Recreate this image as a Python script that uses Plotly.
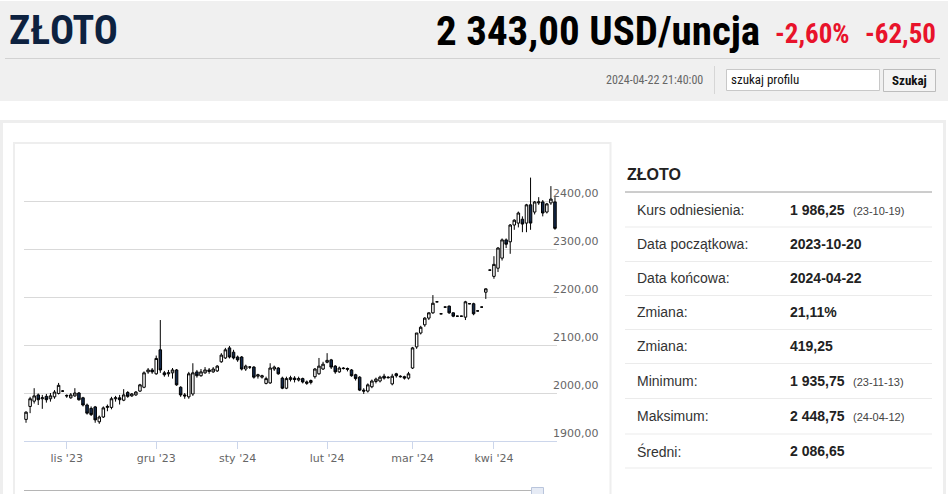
import pandas as pd
import plotly.graph_objects as go

# ---------------- data ----------------
holidays = ["2023-12-25", "2024-01-01", "2024-03-29"]
dates = [d.strftime("%Y-%m-%d") for d in pd.bdate_range("2023-10-18", "2024-04-22")
         if d.strftime("%Y-%m-%d") not in holidays]

open_ = [1945, 1972, 1983, 1996, 1988, 1993, 1988, 1992, 1999, 2004,
         1995, 1990, 1994, 2000, 1990, 1975, 1968, 1971, 1940, 1950,
         1970, 1970, 1988, 1990, 1985, 2001, 1994, 1996, 2004, 2012,
         2044, 2048, 2040, 2090, 2042, 2040, 2042, 2048, 2012, 1996,
         1992, 1998, 2044, 2036, 2042, 2048, 2044, 2046, 2065, 2073,
         2094, 2085, 2075, 2075, 2050, 2054, 2054, 2035, 2033, 2020,
         2021, 2050, 2052, 2031, 2010, 2028, 2031, 2027, 2030, 2020,
         2022, 2034, 2040, 2050, 2064, 2069, 2056, 2044, 2052, 2049,
         2048, 2038, 2033, 2006, 2004, 2013, 2024, 2025, 2035, 2033,
         2019, 2040, 2035, 2034, 2031, 2052, 2096, 2125, 2142, 2156,
         2167, 2190, 2165, 2179, 2181, 2167, 2160, 2160, 2158, 2186,
         2186, 2171, 2179, 2210, 2256, 2243, 2260, 2281, 2319, 2315,
         2350, 2354, 2362, 2354, 2392, 2377, 2396, 2398, 2377, 2396,
         2398]
high = [1962, 1992, 2010, 1999, 1996, 1998, 2000, 2006, 2021, 2006,
        1997, 2000, 2010, 2002, 1992, 1978, 1972, 1973, 1953, 1972,
        1976, 1992, 1994, 1996, 2008, 2004, 2000, 2004, 2019, 2045,
        2052, 2052, 2078, 2152, 2046, 2048, 2052, 2050, 2014, 2000,
        2044, 2062, 2048, 2050, 2054, 2052, 2054, 2058, 2083, 2094,
        2098, 2090, 2078, 2077, 2059, 2056, 2056, 2040, 2038, 2034,
        2062, 2057, 2054, 2034, 2034, 2036, 2035, 2034, 2032, 2026,
        2028, 2052, 2073, 2065, 2083, 2071, 2058, 2055, 2054, 2053,
        2050, 2040, 2035, 2010, 2020, 2028, 2032, 2036, 2040, 2035,
        2040, 2042, 2037, 2036, 2044, 2096, 2125, 2140, 2158, 2168,
        2204, 2191, 2166, 2180, 2182, 2168, 2161, 2161, 2192, 2187,
        2188, 2172, 2180, 2218, 2257, 2285, 2304, 2322, 2322, 2352,
        2362, 2378, 2368, 2394, 2448.75, 2400, 2408, 2402, 2396, 2431,
        2408]
low = [1938, 1958, 1978, 1975, 1967, 1980, 1982, 1988, 1997, 2002,
       1990, 1988, 1992, 1984, 1972, 1955, 1952, 1938, 1935.75, 1948,
       1962, 1966, 1982, 1976, 1983, 1990, 1992, 1994, 2002, 2010,
       2040, 2040, 2038, 2042, 2034, 2034, 2030, 2015, 1992, 1988,
       1988, 1994, 2032, 2034, 2040, 2040, 2042, 2044, 2063, 2071,
       2072, 2070, 2065, 2047, 2046, 2050, 2030, 2030, 2030, 2018,
       2019, 2046, 2038, 2008, 2008, 2024, 2022, 2024, 2020, 2017,
       2018, 2030, 2038, 2048, 2062, 2050, 2040, 2042, 2049, 2045,
       2034, 2026, 2004, 1998, 2001, 2010, 2020, 2022, 2028, 2030,
       2016, 2032, 2032, 2028, 2028, 2050, 2092, 2122, 2138, 2152,
       2165, 2189, 2164, 2178, 2165, 2158, 2159, 2159, 2152, 2185,
       2162, 2170, 2178, 2196, 2255, 2238, 2252, 2276, 2302, 2290,
       2340, 2345, 2335, 2335, 2340, 2372, 2392, 2368, 2374, 2392,
       2340]
close = [1960, 1988, 1994, 1986, 1990, 1986, 1994, 2002, 2016, 2004,
         1994, 1996, 2000, 1986, 1975, 1958, 1955, 1944, 1950, 1969,
         1972, 1988, 1990, 1986, 1996, 1993, 1998, 2002, 2017, 2042,
         2048, 2044, 2072, 2048, 2038, 2042, 2048, 2017, 1996, 1994,
         2040, 2042, 2036, 2044, 2048, 2045, 2050, 2056, 2079, 2090,
         2075, 2073, 2069, 2050, 2056, 2054, 2033, 2038, 2036, 2030,
         2052, 2054, 2040, 2010, 2030, 2032, 2028, 2030, 2023, 2023,
         2026, 2050, 2056, 2060, 2068, 2054, 2044, 2052, 2051, 2051,
         2036, 2030, 2006, 2004, 2017, 2025, 2029, 2033, 2031, 2032,
         2035, 2036, 2034, 2031, 2040, 2094, 2125, 2137, 2156, 2167,
         2187, 2190, 2165, 2179, 2167, 2160, 2160, 2160, 2190, 2186,
         2165, 2171, 2179, 2217, 2256, 2268, 2302, 2319, 2310, 2350,
         2360, 2375, 2352, 2392, 2354, 2398, 2398, 2375, 2394, 2404,
         2343]

month_ticks = ["2023-11-01", "2023-12-01", "2024-01-02", "2024-02-01", "2024-03-01", "2024-04-01"]
month_labels = ["lis '23", "gru '23", "sty '24", "lut '24", "mar '24", "kwi '24"]
y_ticks = [1900, 2000, 2100, 2200, 2300, 2400, 2500]
y_labels = ["1900,00", "2000,00", "2100,00", "2200,00", "2300,00", "2400,00", ""]

title = "ZŁOTO"
price_text = "2 343,00 USD/uncja"
change_pct = "-2,60%"
change_abs = "-62,50"
timestamp = "2024-04-22 21:40:00"

row_labels = ["Kurs odniesienia:", "Data początkowa:", "Data końcowa:", "Zmiana:",
              "Zmiana:", "Minimum:", "Maksimum:", "Średni:"]
row_values = ["1 986,25", "2023-10-20", "2024-04-22", "21,11%",
              "419,25", "1 935,75", "2 448,75", "2 086,65"]
row_notes = ["(23-10-19)", "", "", "", "", "(23-11-13)", "(24-04-12)", ""]

# ---------------- helpers ----------------
W, H = 948, 494
def X(px): return px / W
def Y(py): return 1 - py / H

NARROW = "Liberation Sans Narrow, Arial Narrow, Roboto Condensed, Liberation Sans, sans-serif"
ARIAL = "Liberation Sans, Arial, sans-serif"
DEJAVU = "DejaVu Sans, Verdana, sans-serif"

fig = go.Figure()
fig.add_trace(go.Candlestick(
    x=dates, open=open_, high=high, low=low, close=close,
    increasing=dict(fillcolor="#ffffff", line=dict(color="#000000", width=1)),
    decreasing=dict(fillcolor="#13294b", line=dict(color="#000000", width=1)),
    whiskerwidth=0, showlegend=False, hoverinfo="skip",
))

shapes = []
annos = []
def rect(x0, y0, x1, y1, fill=None, line=None, lw=1):
    shapes.append(dict(type="rect", xref="paper", yref="paper", x0=X(x0), x1=X(x1), y0=Y(y1), y1=Y(y0),
                       fillcolor=fill if fill else "rgba(0,0,0,0)",
                       line=dict(color=line if line else "rgba(0,0,0,0)", width=lw if line else 0),
                       layer="below"))
def hline(x0, x1, y, color, lw=1):
    shapes.append(dict(type="line", xref="paper", yref="paper", x0=X(x0), x1=X(x1), y0=Y(y), y1=Y(y),
                       line=dict(color=color, width=lw), layer="below"))
def vline(x, y0, y1, color, lw=1):
    shapes.append(dict(type="line", xref="paper", yref="paper", x0=X(x), x1=X(x), y0=Y(y0), y1=Y(y1),
                       line=dict(color=color, width=lw), layer="below"))
def text(x, y, s, size, color="#000", family=ARIAL, xanchor="left", bold=False):
    annos.append(dict(xref="paper", yref="paper", x=X(x), y=Y(y), text=("<b>%s</b>" % s) if bold else s,
                      showarrow=False, xanchor=xanchor, yanchor="middle",
                      font=dict(size=size, color=color, family=family), align="left",
                      borderpad=0))

# header band
rect(0, 1, 948, 101, fill="#f0f0f0")
hline(5, 940, 58.5, "#d2d2d2")
text(8, 31, title, 40, "#0d2240", NARROW, bold=True)
text(761, 31, price_text, 41, "#000000", NARROW, xanchor="right", bold=True)
text(774, 34, change_pct, 27, "#e8132b", NARROW, bold=True)
text(937, 34, change_abs, 27, "#e8132b", NARROW, xanchor="right", bold=True)
text(704, 80, timestamp, 12, "#666666", NARROW, xanchor="right")
vline(714.5, 66, 94, "#d6d6d6")
rect(726.5, 69.5, 879.5, 90.5, fill="#ffffff", line="#c8c8c8")
text(730, 80, "szukaj profilu", 13, "#111111", NARROW)
rect(883.5, 69.5, 935.5, 91.5, fill="#f4f4f4", line="#bdbdbd")
text(909.5, 80.5, "Szukaj", 13, "#111111", NARROW, xanchor="center", bold=True)

# outer panel and chart container
rect(1.5, 121.5, 944.5, 520, line="#eeeeee", lw=3)
rect(14, 143, 610.5, 520, line="#eeeeee", lw=2)
hline(24, 538, 490.5, "#b5b5b5")
rect(531.5, 487.5, 543.5, 497, fill="#e6ebf5", line="#b9c5dc")

# side table
text(626, 175, title, 16, "#222222", ARIAL, bold=True)
hline(625, 932, 192, "#9a9a9a")
row_y = [210, 244, 278, 312, 346, 381, 416, 451]
sep_y = [227, 261.5, 295.5, 329.5, 363.5, 398.5, 434, 468]
for i in range(len(row_labels)):
    text(636, row_y[i], row_labels[i], 14, "#333333", ARIAL)
    text(789, row_y[i], row_values[i], 14, "#222222", ARIAL, bold=True)
    if row_notes[i]:
        text(852, row_y[i] + 1, row_notes[i], 11, "#444444", ARIAL)
    hline(625, 932, sep_y[i], "#ebebeb")

fig.update_layout(
    template="none",
    width=W, height=H, autosize=False,
    margin=dict(l=0, r=0, t=0, b=0, pad=0, autoexpand=False),
    paper_bgcolor="#ffffff", plot_bgcolor="#ffffff",
    showlegend=False,
    hovermode=False,
    boxgap=0.12,
    shapes=shapes, annotations=annos,
    xaxis=dict(
        type="category", domain=[X(24), X(557)], range=[-0.5, len(dates) - 0.5],
        rangeslider=dict(visible=False), showgrid=False, automargin=False,
        showline=True, linecolor="#ccd6eb", linewidth=1, zeroline=False,
        ticks="outside", ticklen=7, tickcolor="#ccd6eb", tickwidth=1,
        tickmode="array", tickvals=month_ticks, ticktext=month_labels,
        tickfont=dict(family=DEJAVU, size=11, color="#666666"),
        fixedrange=True,
    ),
    yaxis=dict(
        domain=[Y(441), Y(153)], range=[1900, 2500], side="right", automargin=False,
        tickmode="array", tickvals=y_ticks, ticktext=y_labels,
        showgrid=True, gridcolor="#d9d9d9", gridwidth=1, zeroline=False,
        showline=False, ticks="",
        ticklabelposition="outside top", ticklabelstandoff=-5,
        tickfont=dict(family=DEJAVU, size=11, color="#666666"),
        fixedrange=True,
    ),
)

fig.write_html("out.html", config={"displayModeBar": False, "staticPlot": True},
               post_script="document.body.style.margin='0';document.body.style.overflow='hidden';")
